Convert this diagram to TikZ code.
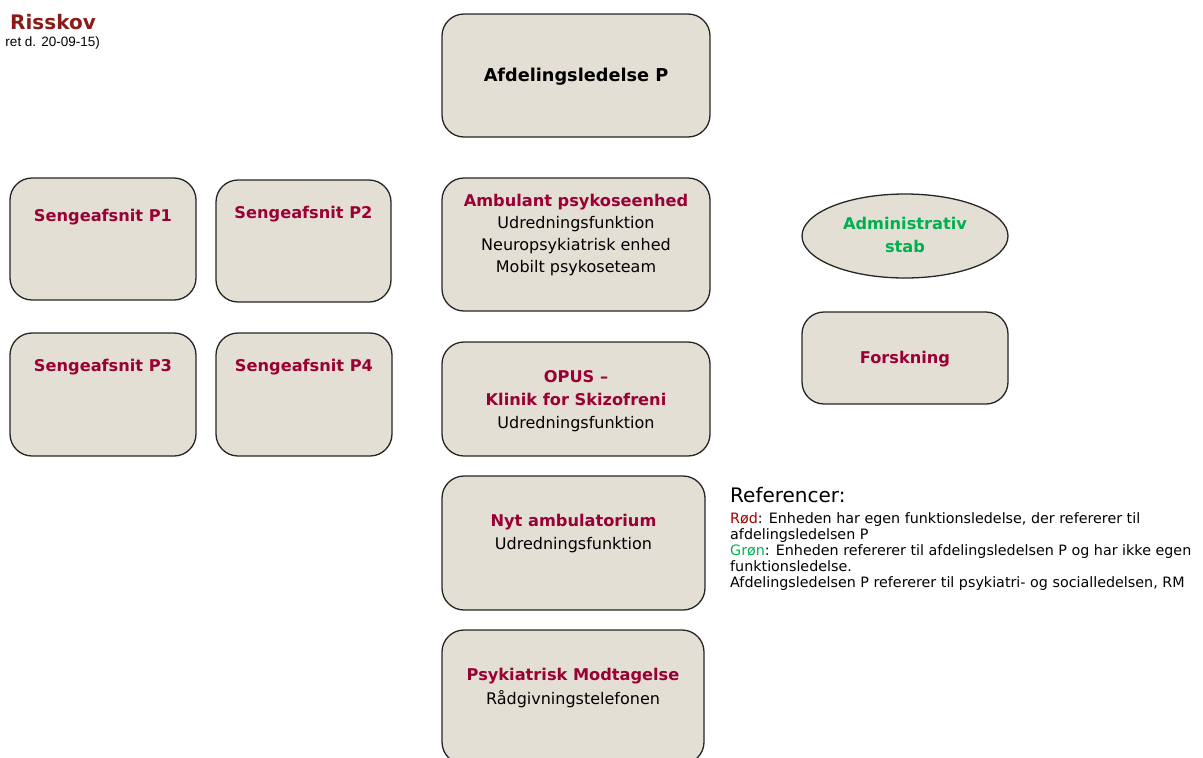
\documentclass[tikz,border=0pt]{standalone}
\usepackage{fontspec}
\setmainfont{DejaVu Sans}
\newfontfamily\arialfont{Liberation Sans}
\usetikzlibrary{shapes.geometric}
\definecolor{boxfill}{HTML}{E3DFD4}
\definecolor{unitred}{HTML}{990033}
\definecolor{titlered}{HTML}{8B1A1A}
\definecolor{legred}{HTML}{A00000}
\definecolor{unitgreen}{HTML}{00B050}
\tikzset{
  box/.style={draw=black!85, line width=1.3pt, fill=boxfill, rounded corners=22pt, inner sep=0pt},
  oval/.style={draw=black!85, line width=1.3pt, fill=boxfill, ellipse, inner sep=0pt},
  head/.style={text=unitred, font=\bfseries\fontsize{16.2}{23}\selectfont, align=center, inner sep=0pt},
  sub/.style={text=black, font=\fontsize{16}{22}\selectfont, align=center, inner sep=0pt},
  leg/.style={anchor=base west, inner sep=0pt, font=\fontsize{14.3}{16}\selectfont},
}
\begin{document}
\begin{tikzpicture}[x=1pt,y=-1pt]
\useasboundingbox (0,0) rectangle (1203,758);
% title
\node[anchor=west, inner sep=0pt, text=titlered, font=\bfseries\fontsize{20}{24}\selectfont] (title) at (10,22) {Risskov};
\node[anchor=east, inner sep=0pt, font=\arialfont\fontsize{13.5}{15}\selectfont] (subtitle) at (100,43) {ret d. 20-09-15)};
% boxes
\node[box, minimum width=268pt, minimum height=123pt] (afd) at (576,75.5) {};
\node[text=black, font=\bfseries\fontsize{17.7}{20}\selectfont, inner sep=0pt] (afdt) at (576,77) {Afdelingsledelse P};

\node[box, minimum width=186pt, minimum height=122pt] (p1) at (103,239) {};
\node[head] (p1t) at (103,217) {Sengeafsnit P1};
\node[box, minimum width=175pt, minimum height=122pt] (p2) at (303.5,241) {};
\node[head] (p2t) at (303.5,214) {Sengeafsnit P2};
\node[box, minimum width=186pt, minimum height=123pt] (p3) at (103,394.5) {};
\node[head] (p3t) at (103,367) {Sengeafsnit P3};
\node[box, minimum width=176pt, minimum height=123pt] (p4) at (304,394.5) {};
\node[head] (p4t) at (304,367) {Sengeafsnit P4};

\node[box, minimum width=268pt, minimum height=133pt] (amb) at (576,244.5) {};
\node[head] (ambt) at (576,202) {Ambulant psykoseenhed};
\node[sub] (ambs) at (576,246) {Udredningsfunktion\\Neuropsykiatrisk enhed\\Mobilt psykoseteam};

\node[box, minimum width=268pt, minimum height=114pt] (opus) at (576,399) {};
\node[head] (opust) at (576,388.5) {OPUS --\\Klinik for Skizofreni};
\node[sub] (opuss) at (576,424) {Udredningsfunktion};

\node[box, minimum width=263pt, minimum height=134pt] (nyt) at (573.5,543) {};
\node[head] (nytt) at (573.5,522) {Nyt ambulatorium};
\node[sub] (nyts) at (573.5,545) {Udredningsfunktion};

\node[box, minimum width=262pt, minimum height=134pt] (mod) at (573,697) {};
\node[head] (modt) at (573,676) {Psykiatrisk Modtagelse};
\node[sub] (mods) at (573,699) {Rådgivningstelefonen};

\node[oval, minimum width=206pt, minimum height=84pt] (adm) at (905,236) {};
\node[head, text=unitgreen] (admt) at (905,235) {Administrativ\\stab};

\node[box, minimum width=206pt, minimum height=92pt] (fors) at (905,358) {};
\node[head] (forst) at (905,359) {Forskning};

% legend
\node[anchor=west, inner sep=0pt, font=\fontsize{20}{22}\selectfont] (legh) at (730,495) {Referencer:};
\node[leg] (leg1) at (730,523) {\textcolor{legred}{Rød}: Enheden har egen funktionsledelse, der refererer til};
\node[leg] (leg2) at (730,539) {afdelingsledelsen P};
\node[leg] (leg3) at (730,555) {\textcolor{unitgreen}{Grøn}: Enheden refererer til afdelingsledelsen P og har ikke egen};
\node[leg] (leg4) at (730,571) {funktionsledelse.};
\node[leg] (leg5) at (730,587) {Afdelingsledelsen P refererer til psykiatri- og socialledelsen, RM};
\end{tikzpicture}
\end{document}
